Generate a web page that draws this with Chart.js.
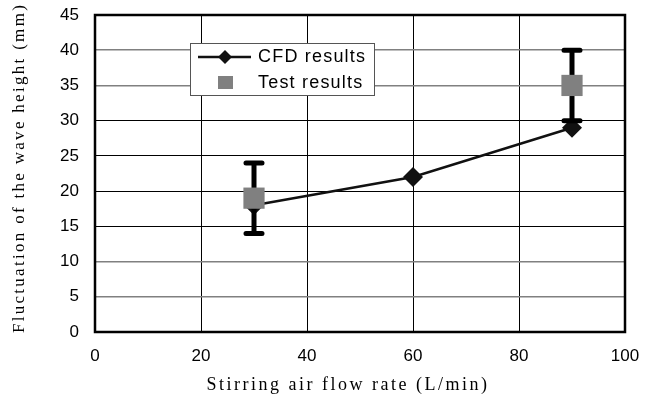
<!DOCTYPE html>
<html lang="en-US">
<head>
  <meta charset="utf-8">
  <title>Wave height fluctuation</title>
  <script src="https://cdn.jsdelivr.net/npm/chart.js@4"></script>
  <style>
  body { margin: 0; background: #fff; }
  canvas { display: block; }
  </style>
</head>
<body>
  <canvas id="chart" width="655" height="399"></canvas>
  <script>
    // air flow rate (L/min)
    const cfdX = [30, 60, 90];
    const cfdY = [18, 22, 29];
    const testX = [30, 90];
    const testY = [19, 35];
    const testLow = [14, 30];
    const testHigh = [24, 40];
    const grayLines = [40, 35, 10, 5];

    const SANS = '"Liberation Sans", Arial, sans-serif';
    const SERIF = '"Liberation Serif", "DejaVu Serif", serif';

    // error bars drawn under the test squares
    const errorBars = {
      id: 'errorBars',
      beforeDatasetDraw(chart, args) {
        if (args.index !== 1) return;
        const ctx = chart.ctx, x = chart.scales.x, y = chart.scales.y;
        ctx.save();
        ctx.strokeStyle = '#000';
        ctx.lineCap = 'round';
        for (let i = 0; i < testX.length; i++) {
          const px = x.getPixelForValue(testX[i]);
          const lo = y.getPixelForValue(testLow[i]);
          const hi = y.getPixelForValue(testHigh[i]);
          ctx.lineWidth = 5;
          ctx.beginPath();
          ctx.moveTo(px, lo); ctx.lineTo(px, hi);
          ctx.moveTo(px - 8, lo); ctx.lineTo(px + 8, lo);
          ctx.moveTo(px - 8, hi); ctx.lineTo(px + 8, hi);
          ctx.stroke();
        }
        ctx.restore();
      }
    };

    // frame, axis titles and the boxed legend
    const extras = {
      id: 'extras',
      beforeDatasetsDraw(chart) {
        const ctx = chart.ctx, a = chart.chartArea;
        ctx.save();
        ctx.strokeStyle = '#000';
        ctx.lineWidth = 2.5;
        ctx.strokeRect(a.left, a.top, a.right - a.left, a.bottom - a.top);
        ctx.restore();
      },
      afterDraw(chart) {
        const ctx = chart.ctx;
        ctx.save();
        ctx.fillStyle = '#000';
        ctx.textAlign = 'center';
        ctx.textBaseline = 'middle';
        ctx.font = '18px ' + SERIF;
        ctx.letterSpacing = '2.5px';
        ctx.fillText('Stirring air flow rate (L/min)', 348, 385);
        ctx.font = '17px ' + SERIF;
        ctx.letterSpacing = '2.3px';
        ctx.translate(20, 168);
        ctx.rotate(-Math.PI / 2);
        ctx.fillText('Fluctuation of the wave height (mm)', 0, 0);
        ctx.restore();

        // legend
        ctx.save();
        const lx = 190, ly = 43, lw = 184, lh = 52;
        ctx.fillStyle = '#fff';
        ctx.fillRect(lx, ly, lw, lh);
        ctx.strokeStyle = '#555';
        ctx.lineWidth = 1;
        ctx.strokeRect(lx + 0.5, ly + 0.5, lw, lh);
        ctx.strokeStyle = '#111';
        ctx.lineWidth = 2.5;
        ctx.beginPath();
        ctx.moveTo(198, 57); ctx.lineTo(251, 57);
        ctx.stroke();
        ctx.fillStyle = '#111';
        ctx.beginPath();
        ctx.moveTo(225, 50); ctx.lineTo(232, 57); ctx.lineTo(225, 64); ctx.lineTo(218, 57);
        ctx.closePath();
        ctx.fill();
        ctx.fillStyle = '#808080';
        ctx.fillRect(218, 76, 15, 13);
        ctx.fillStyle = '#000';
        ctx.font = '18px ' + SANS;
        ctx.letterSpacing = '1.2px';
        ctx.textBaseline = 'middle';
        ctx.fillText('CFD results', 258, 57);
        ctx.fillText('Test results', 258, 83);
        ctx.restore();
      }
    };

    new Chart(document.getElementById('chart'), {
      type: 'scatter',
      data: {
        datasets: [{
          label: 'CFD results',
          data: cfdX.map((x, i) => ({ x: x, y: cfdY[i] })),
          showLine: true,
          borderColor: '#111',
          borderWidth: 2.5,
          backgroundColor: '#111',
          pointStyle: 'rectRot',
          pointRadius: 10,
          pointBorderWidth: 0,
          order: 1
        }, {
          label: 'Test results',
          data: testX.map((x, i) => ({ x: x, y: testY[i] })),
          showLine: false,
          backgroundColor: '#808080',
          borderColor: '#808080',
          pointStyle: 'rect',
          pointRadius: 15,
          pointBorderWidth: 0,
          order: 0
        }]
      },
      options: {
        responsive: false,
        animation: false,
        layout: { padding: { top: 13, right: 30, left: 0, bottom: 0 } },
        plugins: { legend: { display: false }, tooltip: { enabled: false } },
        scales: {
          x: {
            type: 'linear', min: 0, max: 100,
            ticks: { stepSize: 20, color: '#000', padding: 14, font: { family: SANS, size: 17 } },
            grid: { color: '#000', lineWidth: 1, drawTicks: false },
            border: { display: false },
            afterFit(s) { s.height = 67; s.paddingLeft = 0; s.paddingRight = 0; }
          },
          y: {
            min: 0, max: 45,
            ticks: { stepSize: 5, color: '#000', padding: 16, font: { family: SANS, size: 17 } },
            grid: {
              color: c => grayLines.includes(c.tick.value) ? '#808080' : '#000',
              lineWidth: c => grayLines.includes(c.tick.value) ? 1.5 : 1,
              drawTicks: false
            },
            border: { display: false },
            afterFit(s) { s.width = 95; s.paddingTop = 0; s.paddingBottom = 0; }
          }
        }
      },
      plugins: [errorBars, extras]
    });
  </script>
</body>
</html>
